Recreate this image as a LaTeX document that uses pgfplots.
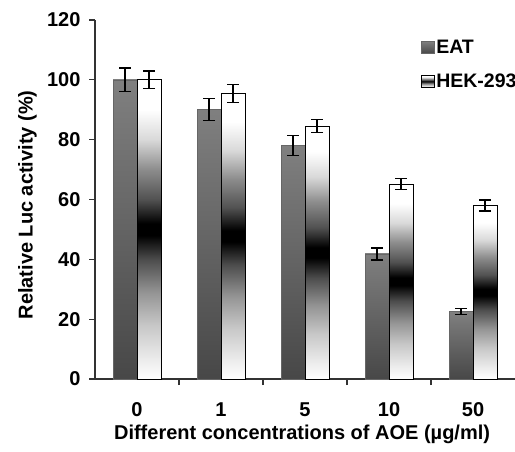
\documentclass[border=0pt]{standalone}
\usepackage{fontspec}
\setmainfont{Liberation Sans}
\usepackage{pgfplots}
\pgfplotsset{compat=1.18}
\pgfdeclareverticalshading{hek}{100bp}{color(0bp)=(white); color(25bp)=(white); color(28.5bp)=(black!8); color(34bp)=(black!22); color(39.5bp)=(black!42); color(45bp)=(black!70); color(49bp)=(black); color(51bp)=(black); color(55bp)=(black!68); color(60bp)=(black!45); color(65bp)=(black!15); color(70bp)=(white); color(100bp)=(white)}
\pgfdeclareverticalshading{eat}{100bp}{color(0bp)=(black!72); color(25bp)=(black!72); color(75bp)=(black!50); color(100bp)=(black!50)}
\pgfplotsset{
  eatbar/.style={draw=black!60, line width=0.5pt, shading=eat, bar shift=-12pt,
    error bars/.cd, y dir=both, y explicit,
    error bar style={line width=1.3pt, black},
    error mark options={rotate=90, mark size=6pt, line width=1.3pt, black},
    /pgfplots/.cd},
  hekbar/.style={draw=black, line width=0.8pt, shading=hek, bar shift=12pt,
    error bars/.cd, y dir=both, y explicit,
    error bar style={line width=1.3pt, black},
    error mark options={rotate=90, mark size=6pt, line width=1.3pt, black},
    /pgfplots/.cd},
}
\begin{document}
\begin{tikzpicture}
\begin{axis}[name=ax, scale only axis, width=420pt, height=359pt,
  xmin=-0.5, xmax=4.5, ymin=0, ymax=120,
  axis lines*=left,
  axis line style={line width=1.3pt, color=black!80, -},
  font=\fontsize{20}{23}\selectfont\bfseries,
  tick align=outside, major tick length=6pt,
  tick style={line width=1.3pt, color=black!80},
  xtick={0.5,1.5,2.5,3.5}, xticklabels={},
  extra x ticks={0,1,2,3,4}, extra x tick labels={0,1,5,10,50},
  extra x tick style={major tick length=0pt, tick label style={anchor=center, yshift=-31pt}},
  ytick={0,20,...,120},
  yticklabel style={xshift=-5pt},
  /pgf/number format/assume math mode=true,
  ylabel={Relative Luc activity (\%)},
  xlabel={Different concentrations of AOE (µg/ml)},
  xlabel style={font=\fontsize{20.5}{23}\selectfont\bfseries},
  ylabel style={font=\fontsize{20.5}{23}\selectfont\bfseries},
  every axis y label/.style={at={(axis description cs:-0.161,0.485)}, rotate=90, anchor=center},
  every axis x label/.style={at={(axis description cs:0.493,-0.153)}, anchor=center},
  ybar=0pt, bar width=24pt,
  legend style={at={(axis description cs:0.769,0.955)}, anchor=north west, draw=none, fill=none, row sep=16pt,
    font=\fontsize{19.5}{22}\selectfont\bfseries, nodes={inner sep=1.5pt}},
  legend image code/.code={\draw[#1, line width=0.6pt] (0pt,-6pt) rectangle (13pt,6pt);},
  legend cell align=left,
]
\addplot[eatbar] coordinates {(0,100) +- (0,4)};
\addplot[hekbar] coordinates {(0,100) +- (0,3)};
\addplot[forget plot, eatbar] coordinates {(1,90) +- (0,3.7)};
\addplot[forget plot, eatbar] coordinates {(2,78) +- (0,3.3)};
\addplot[forget plot, eatbar] coordinates {(3,41.8) +- (0,2)};
\addplot[forget plot, eatbar] coordinates {(4,22.5) +- (0,1)};
\addplot[forget plot, hekbar] coordinates {(1,95.5) +- (0,3)};
\addplot[forget plot, hekbar] coordinates {(2,84.5) +- (0,2.2)};
\addplot[forget plot, hekbar] coordinates {(3,65.2) +- (0,1.9)};
\addplot[forget plot, hekbar] coordinates {(4,58) +- (0,1.8)};
\legend{EAT, HEK-293}
\end{axis}
\pgfresetboundingbox
\path[use as bounding box] ([xshift=-95pt,yshift=-72pt]ax.south west) rectangle ([yshift=20pt]ax.north east);
\end{tikzpicture}
\end{document}
